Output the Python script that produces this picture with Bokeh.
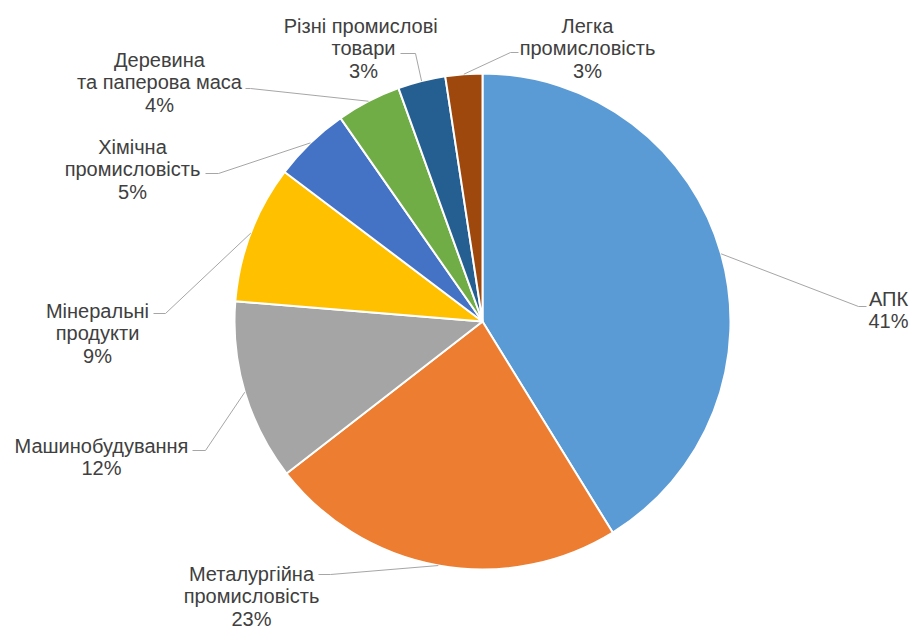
import numpy as np
from bokeh.plotting import figure
from bokeh.models import Range1d, ColumnDataSource
from bokeh.embed import file_html
from bokeh.resources import INLINE
from bokeh.core.properties import value

# ---------------- data ----------------
categories = ["АПК", "Металургійна промисловість", "Машинобудування",
              "Мінеральні продукти", "Хімічна промисловість",
              "Деревина та паперова маса", "Різні промислові товари",
              "Легка промисловість"]
shares = [41.2, 23.3, 11.8, 9.0, 5.0, 4.2, 3.1, 2.4]
pct_labels = ["41%", "23%", "12%", "9%", "5%", "4%", "3%", "3%"]
label_lines = [["АПК"], ["Металургійна", "промисловість"], ["Машинобудування"],
               ["Мінеральні", "продукти"], ["Хімічна", "промисловість"],
               ["Деревина", "та паперова маса"], ["Різні  промислові", "товари"],
               ["Легка", "промисловість"]]
colors = ["#5B9BD5", "#ED7D31", "#A5A5A5", "#FFC000", "#4472C4",
          "#70AD47", "#255E91", "#9E480E"]

# ---------------- layout (screen px of the picture) ----------------
W, H = 915, 630
CENTER = (482, 321)
RADIUS = 248
label_pos = [(888, 298), (251, 573), (101, 445), (97, 310), (132, 146),
             (159, 59), (363, 25), (587, 25)]
LINE_STEP = 22.5
leader_elbow = [(858, 306), (330, 574), (205, 450), (165, 313), (218, 173),
                (250, 88), (415, 53), (510, 52)]
leader_end = [(866, 306), (318, 574), (192, 450), (153, 313), (205, 173),
              (245, 88), (400, 53), (518, 52)]

def to_data(X, Y):
    return X, H - Y

cx, cy = to_data(*CENTER)

fr = np.array(shares) / sum(shares)
cum_end = np.cumsum(fr)
cum_start = cum_end - fr
start_angle = np.pi / 2 - 2 * np.pi * cum_start
end_angle = np.pi / 2 - 2 * np.pi * cum_end
mid = np.pi / 2 - 2 * np.pi * (cum_start + fr / 2)

p = figure(width=W, height=H, x_range=Range1d(0, W), y_range=Range1d(0, H),
           output_backend="svg", toolbar_location=None, min_border=0)
p.axis.visible = False
p.grid.visible = False
p.outline_line_color = None
p.background_fill_color = "white"
p.border_fill_color = "white"

src = ColumnDataSource(dict(cat=categories, start=start_angle, end=end_angle, color=colors))
p.wedge(x=cx, y=cy, radius=RADIUS, start_angle="start", end_angle="end",
        direction="clock", fill_color="color", line_color="white",
        line_width=2, source=src)

# leader lines
xs, ys = [], []
for i in range(len(categories)):
    ex, ey = cx + RADIUS * np.cos(mid[i]), cy + RADIUS * np.sin(mid[i])
    bx, by = to_data(*leader_elbow[i])
    tx, ty = to_data(*leader_end[i])
    xs.append([ex, bx, tx])
    ys.append([ey, by, ty])
p.multi_line(xs=xs, ys=ys, line_color="#A6A6A6", line_width=1)

# labels
tx_, ty_, tt_ = [], [], []
for i in range(len(categories)):
    lines = label_lines[i] + [pct_labels[i]]
    X, Y = label_pos[i]
    for k, t in enumerate(lines):
        dx, dy = to_data(X, Y + k * LINE_STEP)
        tx_.append(dx); ty_.append(dy); tt_.append(t)
p.text(x=tx_, y=ty_, text=tt_, text_font=value("Liberation Sans"),
       text_font_size="20px", text_color="#404040",
       text_align="center", text_baseline="middle")

open("out.html", "w").write(file_html(p, INLINE))
